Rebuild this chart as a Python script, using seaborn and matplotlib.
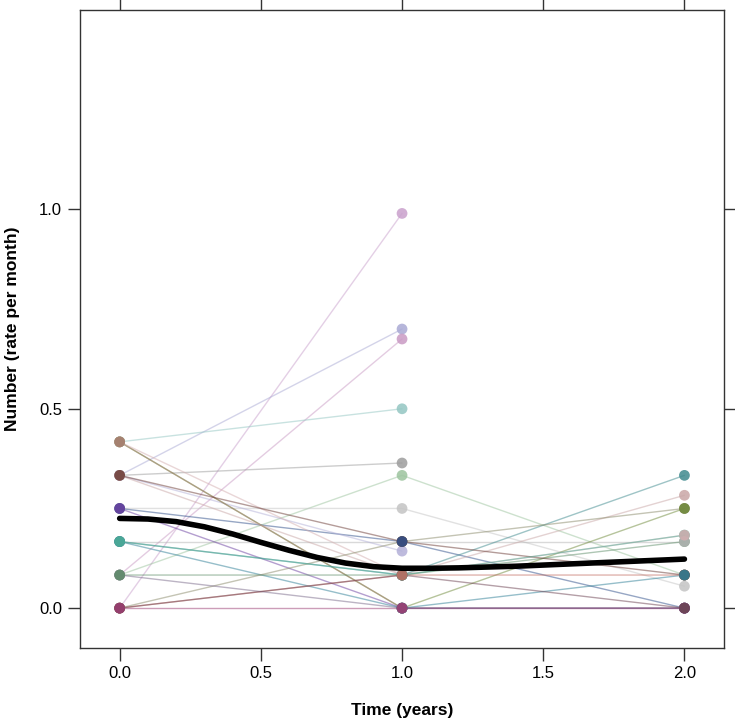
import pandas as pd
import matplotlib.pyplot as plt
import seaborn as sns

# individual trajectories: rate per month at time 0, 1, 2 (None = not observed)
subject = list(range(1, 26))
rate_t0 = [0.000, 0.333, 0.083, 0.417, 0.333, 0.083, 0.250, 0.250, 0.167, 0.333,
           0.417, 0.417, 0.417, 0.333, 0.250, 0.167, 0.167, 0.083, 0.000, 0.000,
           0.000, 0.083, 0.333, 0.000, 0.167]
rate_t1 = [0.990, 0.700, 0.675, 0.500, 0.364, 0.333, 0.250, 0.167, 0.167, 0.143,
           0.000, 0.000, 0.083, 0.083, 0.000, 0.083, 0.000, 0.083, 0.000, 0.083,
           0.167, 0.000, 0.167, 0.083, 0.083]
rate_t2 = [None, None, None, None, None, 0.083, 0.055, 0.000, 0.167, None,
           0.250, 0.000, 0.183, 0.283, 0.000, 0.333, 0.083, 0.167, 0.000, 0.083,
           0.250, 0.000, 0.083, 0.000, 0.183]
subject_colors = ["#c9a0cc", "#a9a9d4", "#c99ac4", "#93c6c2", "#9c9c9c", "#9cc49e", "#c4c4c4",
                  "#2f4f8a", "#b4b4b4", "#b3b0d8", "#6f8a3a", "#a07a68", "#d4aeb0", "#c9a6a6",
                  "#6a3fa0", "#3f8a8e", "#2e7f96", "#5f8f6a", "#9b3c72", "#c26a5e",
                  "#8a8a6a", "#7a6a8a", "#6b3b35", "#6b4050", "#4fae98"]
# which subject's dot sits on top where several coincide: (subject, time)
front = [(12, 0), (23, 0), (15, 0), (25, 0), (18, 0), (19, 0), (8, 1), (20, 1), (19, 1),
         (16, 2), (14, 2), (11, 2), (13, 2), (9, 2), (17, 2), (7, 2), (24, 2)]

# smooth average curve
smooth_t = [0.0, 0.1, 0.2, 0.3, 0.4, 0.5, 0.6, 0.7, 0.8, 0.9, 1.0,
            1.1, 1.2, 1.3, 1.4, 1.5, 1.6, 1.7, 1.8, 1.9, 2.0]
smooth_y = [0.225, 0.2235, 0.217, 0.204, 0.186, 0.165, 0.145, 0.127, 0.113, 0.104, 0.100,
            0.100, 0.101, 0.103, 0.105, 0.108, 0.111, 0.114, 0.117, 0.120, 0.123]

rows = []
for i, s in enumerate(subject):
    for t, v in zip([0, 1, 2], [rate_t0[i], rate_t1[i], rate_t2[i]]):
        if v is not None:
            rows.append({"id": s, "time": t, "rate": v, "top": (s, t) in front})
df = pd.DataFrame(rows)
pal = dict(zip(subject, subject_colors))

sns.set_style("white")
plt.rcParams["font.family"] = ["Liberation Sans", "DejaVu Sans"]

fig = plt.figure(figsize=(7.35, 7.2), dpi=100)
ax = fig.add_axes([0.109, 0.1, 0.876, 0.886])

sns.lineplot(data=df, x="time", y="rate", hue="id", units="id", estimator=None,
             palette=pal, lw=1, alpha=0.5, legend=False, ax=ax)
pts = df.sort_values("top", kind="stable")
sns.scatterplot(data=pts, x="time", y="rate", hue="id", palette=pal, s=60,
                alpha=0.85, edgecolor="none", legend=False, ax=ax, zorder=3)
sns.lineplot(x=smooth_t, y=smooth_y, color="black", lw=4, ax=ax, zorder=4)

ax.set_xlim(-0.14, 2.14)
ax.set_ylim(-0.1, 1.5)
ax.set_xticks([0, 0.5, 1, 1.5, 2])
ax.set_xticklabels(["0.0", "0.5", "1.0", "1.5", "2.0"])
ax.set_yticks([0, 0.5, 1.0])
ax.set_yticklabels(["0.0", "0.5", "1.0"])
ax.tick_params(direction="out", length=9, width=1, color="#333333", labelcolor="black",
               labelsize=12, top=True, right=True, left=True, bottom=True, pad=4)
for sp in ax.spines.values():
    sp.set_color("#333333")
    sp.set_linewidth(1)

ax.set_xlabel("Time (years)", fontsize=12.5, fontweight="bold", labelpad=16, color="black")
ax.set_ylabel("Number (rate per month)", fontsize=12.5, fontweight="bold", labelpad=14,
              color="black")

fig.savefig("out.png", dpi=100)
